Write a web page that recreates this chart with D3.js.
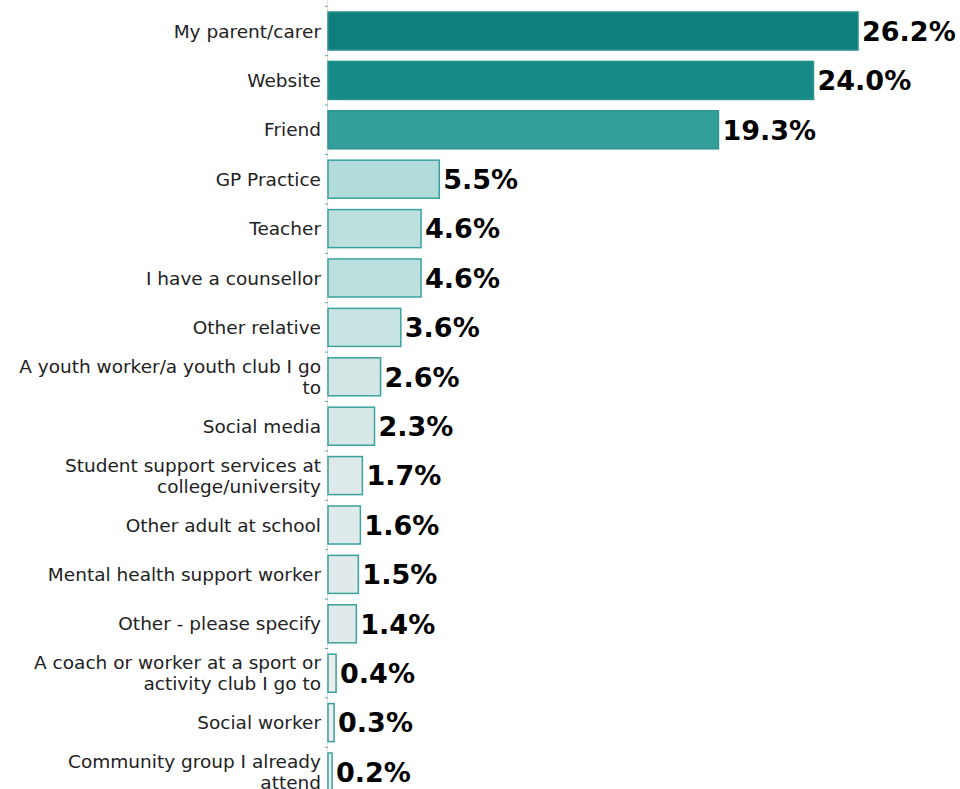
<!DOCTYPE html>
<html>
<head>
<meta charset="utf-8">
<script src="https://cdn.jsdelivr.net/npm/d3@7"></script>
<style>
  body { margin: 0; background: #fff; }
  svg { display: block; }
</style>
</head>
<body>
<div id="chart"></div>
<script>
const categories = [
  "My parent/carer", "Website", "Friend", "GP Practice", "Teacher",
  "I have a counsellor", "Other relative", "A youth worker/a youth club I go to",
  "Social media", "Student support services at college/university",
  "Other adult at school", "Mental health support worker", "Other - please specify",
  "A coach or worker at a sport or activity club I go to", "Social worker",
  "Community group I already attend"
]
const values = [26.2, 24.0, 19.3, 5.5, 4.6, 4.6, 3.6, 2.6, 2.3, 1.7, 1.6, 1.5, 1.4, 0.4, 0.3, 0.2]

const width = 960, height = 789

let svg = d3.select("#chart").append("svg")
  .attr("width", width)
  .attr("height", height)

let x = d3.scaleLinear().domain([0, 30]).range([328, 328 + 30 * 20.23])
let y = d3.scaleBand().domain(categories).range([6.3, 6.3 + 16 * 49.4])
  .paddingInner(0.23).paddingOuter(0.115)

// fill gets darker as the share grows
let paint = d3.scaleLinear()
  .domain([0, 1.5, 2.6, 4.6, 5.5, 19.3, 24, 26.2])
  .range(["#f0f0f0", "#e0eaea", "#d3e6e6", "#bde0df", "#b2dcdb", "#339f9b", "#168a87", "#0e7f7c"])

// axis line + small ticks between rows
svg.append("line")
  .attr("x1", 327.5).attr("x2", 327.5)
  .attr("y1", 0).attr("y2", height)
  .attr("stroke", "#e2e2e2").attr("stroke-width", 1)

svg.selectAll("line.tick")
  .data(categories)
  .join("line")
  .attr("class", "tick")
  .attr("x1", 325).attr("x2", 328)
  .attr("y1", d => y(d) - y.step() * 0.115)
  .attr("y2", d => y(d) - y.step() * 0.115)
  .attr("stroke", "#5aa8a5")

svg.selectAll("rect.bar")
  .data(values)
  .join("rect")
  .attr("class", "bar")
  .attr("x", x(0))
  .attr("y", (d, i) => y(categories[i]))
  .attr("width", d => x(d) - x(0))
  .attr("height", y.bandwidth())
  .attr("fill", d => paint(d))
  .attr("stroke", d => d > 10 ? "#2c9490" : "#3aa29e")
  .attr("stroke-width", 1.5)

svg.selectAll("text.val")
  .data(values)
  .join("text")
  .attr("class", "val")
  .attr("x", d => x(d) + 4)
  .attr("y", (d, i) => y(categories[i]) + y.bandwidth() / 2)
  .attr("dy", "0.36em")
  .attr("font-family", "DejaVu Sans, Verdana, sans-serif")
  .attr("font-weight", "bold")
  .attr("font-size", 27)
  .attr("fill", "#000")
  .text(d => d.toFixed(1) + "%")

// category labels, wrapped to the space left of the axis
let labels = svg.selectAll("text.lab")
  .data(categories)
  .join("text")
  .attr("class", "lab")
  .attr("text-anchor", "end")
  .attr("font-family", "DejaVu Sans, Verdana, sans-serif")
  .attr("font-size", 18.5)
  .attr("fill", "#222")

const maxW = 314, lineH = 21
labels.each(function (d) {
  let t = d3.select(this)
  let words = d.split(" ")
  let lines = [], cur = []
  words.forEach(w => {
    cur.push(w)
    t.text(cur.join(" "))
    if (this.getComputedTextLength() > maxW && cur.length > 1) {
      cur.pop()
      lines.push(cur.join(" "))
      cur = [w]
    }
  })
  lines.push(cur.join(" "))
  t.text(null)
  let cy = y(d) + y.bandwidth() / 2
  let top = cy - (lines.length - 1) * lineH / 2
  lines.forEach((l, i) => {
    t.append("tspan")
      .attr("x", 321)
      .attr("y", top + i * lineH)
      .attr("dy", "0.36em")
      .text(l)
  })
})
</script>
</body>
</html>
